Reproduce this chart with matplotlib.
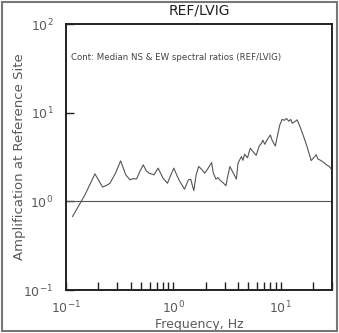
import matplotlib
matplotlib.use("Agg")
import matplotlib.pyplot as plt
from matplotlib.patches import Rectangle

title = "REF/LVIG"
note = "Cont: Median NS & EW spectral ratios (REF/LVIG)"
xlabel = "Frequency, Hz"
ylabel = "Amplification at Reference Site"

freq = [0.115, 0.15, 0.186, 0.219, 0.24, 0.257, 0.29, 0.323, 0.36, 0.394, 0.42, 0.454,
        0.49, 0.524, 0.56, 0.595, 0.66, 0.72, 0.80, 0.88, 0.95, 1.01, 1.08, 1.15, 1.27,
        1.38, 1.45, 1.55, 1.63, 1.72, 1.83, 1.96, 2.1, 2.27, 2.35, 2.49, 2.6, 2.7, 2.9,
        3.09, 3.2, 3.36, 3.6, 3.86, 4.0, 4.3, 4.45, 4.6, 4.9, 5.2, 5.6, 5.9, 6.3, 6.6,
        6.8, 7.1, 7.5, 8.0, 8.3, 8.9, 9.4, 9.8, 10.3, 10.8, 11.3, 11.9, 12.4, 12.8,
        13.5, 14.2, 14.8, 15.5, 16.4, 17.5, 18.3, 19.2, 20.2, 21.4, 22.2, 23.0, 24.0,
        25.0, 26.0, 27.0, 28.4, 30.0]
amp = [0.674, 1.18, 2.04, 1.45, 1.52, 1.60, 2.1, 2.86, 1.99, 1.75, 1.80, 1.79,
       2.2, 2.58, 2.2, 2.08, 1.99, 2.37, 1.83, 1.60, 2.0, 2.37, 1.95, 1.67, 1.37,
       1.75, 1.77, 1.32, 2.0, 2.47, 2.3, 2.08, 2.35, 2.74, 2.1, 1.78, 1.85, 1.75, 1.62,
       1.5, 1.9, 2.47, 2.1, 1.78, 2.7, 3.2, 2.9, 3.4, 3.1, 3.97, 3.55, 3.3, 4.2, 4.5,
       4.9, 4.4, 5.0, 5.6, 4.9, 4.2, 5.8, 7.3, 8.4, 8.2, 8.6, 8.0, 8.4, 7.6,
       7.9, 8.3, 7.4, 6.4, 5.3, 4.2, 3.5, 2.88, 3.1, 3.35, 3.0, 2.94, 2.85,
       2.75, 2.65, 2.55, 2.47, 2.26]

xticks_major = [0.1, 1, 10]
xtick_labels = [r"$\mathregular{10^{-1}}$", r"$\mathregular{10^{0}}$", r"$\mathregular{10^{1}}$"]
yticks_major = [0.1, 1, 10, 100]
ytick_labels = [r"$\mathregular{10^{-1}}$", r"$\mathregular{10^{0}}$", r"$\mathregular{10^{1}}$", r"$\mathregular{10^{2}}$"]

tc = "#5a5a5a"
fig = plt.figure(figsize=(3.39, 3.33), dpi=100)
ax = fig.add_axes([66/339, 43/333, 266/339, 266/333])
ax.set_xscale("log")
ax.set_yscale("log")
ax.set_xlim(0.1, 30)
ax.set_ylim(0.1, 100)

ax.plot(freq, amp, color="#555555", lw=0.8)
ax.axhline(1.0, color="#555555", lw=0.8)

ax.set_xticks(xticks_major)
ax.set_xticklabels(xtick_labels)
ax.set_yticks(yticks_major)
ax.set_yticklabels(ytick_labels)
minor = [m * d for d in (0.1, 1, 10) for m in range(2, 10) if m * d <= 30]
ax.set_xticks(minor, minor=True)
ax.set_yticks([], minor=True)
ax.tick_params(axis="both", which="both", direction="in", length=6, width=1.0,
               colors="#222222", labelcolor=tc, labelsize=9, top=False, right=False)
ax.tick_params(axis="x", pad=7)
ax.tick_params(axis="y", pad=9)

for s in ax.spines.values():
    s.set_linewidth(1.4)
    s.set_color("#222222")

ax.set_xlabel(xlabel, fontsize=9, color=tc, labelpad=1)
ax.set_ylabel(ylabel, fontsize=9.5, color=tc, labelpad=-2)
fig.text(199/339, 1 - 11/333, title, ha="center", va="center", fontsize=10, color="#222222")
ax.text(71/339, 1 - 57/333, note, transform=fig.transFigure, ha="left", va="center",
        fontsize=6.2, color="#444444")

fig.patches.append(Rectangle((2/339, 2/333), 335/339, 329/333, transform=fig.transFigure,
                             fill=False, edgecolor="#777777", lw=1.5))

fig.savefig("out.png", dpi=100)
